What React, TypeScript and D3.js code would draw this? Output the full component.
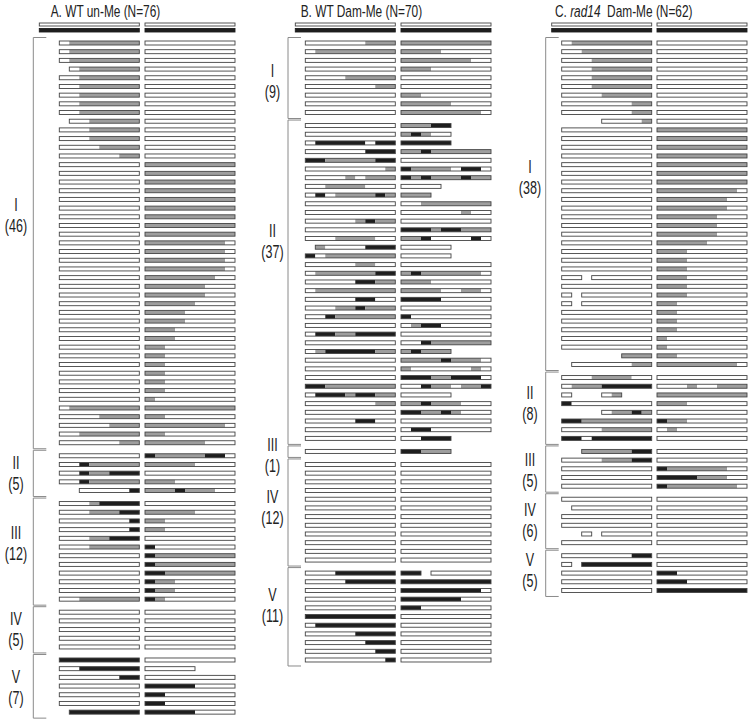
import React from "react";
import * as d3 from "d3";

// each row: "<left> <right>", one char per unit
// 0 = no read, 1 = unmethylated (white), 2 = grey, 3 = black
const aRows = [
  // I
  "12222222 111111111",
  "12222222 111111111",
  "12222222 111111111",
  "01222222 111111111",
  "11222222 111111111",
  "11222222 111111111",
  "11222222 111111111",
  "11222222 111111111",
  "11222222 111111111",
  "01122222 111111111",
  "11122222 111111111",
  "11122222 111111111",
  "11112222 111111111",
  "11111122 111111111",
  "11111111 222222222",
  "11111111 222222222",
  "11111111 222222222",
  "11111111 222222222",
  "11111111 222222222",
  "11111111 222222222",
  "11111111 222222222",
  "11111111 222222222",
  "11111111 222222222",
  "11111111 222222221",
  "11111111 222222221",
  "11111111 222222221",
  "11111111 222222221",
  "11111111 222222211",
  "11111111 222222111",
  "11111111 222222111",
  "11111111 222221111",
  "11111111 222211111",
  "11111111 222211111",
  "11111111 222111111",
  "11111111 222111111",
  "11111111 221111111",
  "11111111 221111111",
  "11111111 221111111",
  "11111111 221111111",
  "11111111 221111111",
  "11111111 221111111",
  "11111111 211111111",
  "12222222 222222222",
  "11112222 221111111",
  "11111222 222222221",
  "11222222 221111111",
  "11111122 222222111",
  // II
  "11111111 322222331",
  "11322222 222221111",
  "11322333 111111111",
  "11322222 222111111",
  "00111113 222322211",
  // III
  "11123333 111111111",
  "11122233 222221111",
  "11111113 221111111",
  "11111113 221111111",
  "11122333 111111111",
  "11122222 311111111",
  "11111111 322222222",
  "11111111 322222222",
  "11111111 332222222",
  "11111111 322111111",
  "11111111 322111111",
  "11222222 321111111",
  // IV
  "11111111 111111111",
  "11111111 111111111",
  "11111111 111111111",
  "11111111 111111111",
  "11111111 111111111",
  // V
  "33333333 111111111",
  "11333333 111110000",
  "11111133 111111111",
  "11111111 333331111",
  "11111111 331111111",
  "11111111 331111111",
  "03333333 333331111",
];
const aGroupSizes = [47, 5, 12, 5, 7];
const aGroupCounts = ["(46)", "(5)", "(12)", "(5)", "(7)"];

const bRows = [
  // I
  "111111222 222222222",
  "122222222 222211111",
  "111111111 222222211",
  "111111111 222111111",
  "111122222 111111111",
  "111111122 111111111",
  "111111111 221111111",
  "111111111 222221111",
  "111111111 222222221",
  // II
  "111111111 222330000",
  "111111111 232110000",
  "133333133 333330000",
  "111111333 223222222",
  "332222233 111111111",
  "111111112 322221331",
  "111121222 323222322",
  "112222111 111100000",
  "131222232 222000000",
  "111111111 112222222",
  "111111111 111111211",
  "111112322 111111111",
  "111111111 333233222",
  "111222211 223111131",
  "021111333 111110000",
  "312222222 111110000",
  "111112211 111111111",
  "122222233 232222221",
  "111113322 222111111",
  "122222222 222211221",
  "111113311 333311111",
  "111223222 111111111",
  "113222222 311111111",
  "111111111 123311111",
  "133223333 111111111",
  "111111111 113222222",
  "123333322 232220000",
  "111111111 222232221",
  "111111111 211111121",
  "111111111 333223331",
  "332222222 113221223",
  "133323322 111110000",
  "111111122 223222111",
  "111111111 332232111",
  "111113311 111111111",
  "111111111 133111111",
  "111111111 113330000",
  // III
  "111111111 332220000",
  // IV
  "111111111 111111111",
  "111111111 111111111",
  "111111111 111111111",
  "111111111 111111111",
  "111111111 111111111",
  "111111111 111111111",
  "111111111 111111111",
  "111111111 111111111",
  "111111111 111111111",
  "111111111 111111111",
  "111111111 111111111",
  "111111111 111111111",
  // V
  "111333333 330111111",
  "111133333 333333333",
  "111111111 333333331",
  "111111111 333333111",
  "111111111 331111111",
  "333333333 111111111",
  "133333333 111111111",
  "111113333 111111111",
  "111111333 111111111",
  "111111133 111111111",
  "111111113 111111111",
];
const bGroupSizes = [9, 37, 1, 12, 11];
const bGroupCounts = ["(9)", "(37)", "(1)", "(12)", "(11)"];

const cRows = [
  // I
  "122222222 111111111",
  "112222222 111111111",
  "111222222 111111111",
  "111222222 111111111",
  "111222222 111111111",
  "111222222 111111111",
  "111122222 111111111",
  "111111122 111111111",
  "111111122 111111111",
  "000011112 111111111",
  "111111111 222222222",
  "111111111 222222222",
  "111111111 222222222",
  "111111111 222222222",
  "111111111 222222222",
  "111111111 222222222",
  "111111111 222222222",
  "111111111 222222221",
  "111111111 222222211",
  "111111111 222222211",
  "111111111 222222111",
  "111111111 222222111",
  "111111111 222222111",
  "111111111 222221111",
  "111111111 222111111",
  "111111111 222111111",
  "111111111 222111111",
  "110111111 222111111",
  "111111111 222111111",
  "101111111 222111111",
  "101111111 221111111",
  "111111111 221111111",
  "111111111 221111111",
  "111111111 221111111",
  "111111111 211111111",
  "111111111 211111111",
  "000000222 221111111",
  "011111122 222222221",
  // II
  "111222211 111111111",
  "122233333 111211222",
  "100012000 222222222",
  "311111111 222111111",
  "000012232 111111111",
  "332222222 322111111",
  "111122222 121111111",
  "331333333 111111111",
  // III
  "002222233 111111111",
  "111122233 111111111",
  "111111111 322222211",
  "111111111 333322211",
  "111111111 322222221",
  // IV
  "111111111 111111111",
  "011111111 111111111",
  "111111111 111111111",
  "111111111 111111111",
  "001011111 111111111",
  "111111111 111111111",
  // V
  "111111133 111111111",
  "103333333 111111111",
  "111111111 331111111",
  "111111111 333111111",
  "111111111 333333333",
];
const cGroupSizes = [38, 8, 5, 6, 5];
const cGroupCounts = ["(38)", "(8)", "(5)", "(6)", "(5)"];

const groupNames = ["I", "II", "III", "IV", "V"];

// layout
const W = 750;
const H = 720;
const UNIT = 10;
const LEFT_UNITS = 10;
const RIGHT_UNITS = 9;
const ROW_TOP = 41;
const ROW_STEP = 8.69;
const BAR_H = 4;
const FONT = "'Liberation Sans', Arial, sans-serif";

const fills: Record<string, string> = { "1": "#ffffff", "2": "#9e9e9e", "3": "#1e1e1e" };
const outline = "#444";

const panels = [
  {
    key: "A", rows: aRows, sizes: aGroupSizes, counts: aGroupCounts,
    leftX: 39.3, rightX: 145, bracketX: 33.3, labelX: 16, titleX: 50.7,
    labelShift: [-28, -1, -9, -1, 0],
    title: [{ t: "A. WT un-Me (N=76)" }],
  },
  {
    key: "B", rows: bRows, sizes: bGroupSizes, counts: bGroupCounts,
    leftX: 295.3, rightX: 401, bracketX: 288, labelX: 272.5, titleX: 300.7,
    labelShift: [3, -42, 3, -6, -12],
    title: [{ t: "B. WT Dam-Me (N=70)" }],
  },
  {
    key: "C", rows: cRows, sizes: cGroupSizes, counts: cGroupCounts,
    leftX: 551.7, rightX: 657, bracketX: 545.7, labelX: 530, titleX: 555,
    labelShift: [-27, -6, 1, -2, -4],
    title: [{ t: "C. " }, { t: "rad14", i: true }, { t: "  Dam-Me (N=62)" }],
  },
];

// contiguous runs of identical codes
function runs(code: string) {
  const out: { s: number; e: number; v: string }[] = [];
  for (let i = 0; i < code.length; i++) {
    const last = out[out.length - 1];
    if (last && last.v === code[i]) last.e = i + 1;
    else out.push({ s: i, e: i + 1, v: code[i] });
  }
  return out;
}

// contiguous runs of present units (anything but 0)
function reads(code: string) {
  const out: { s: number; e: number }[] = [];
  for (let i = 0; i < code.length; i++) {
    if (code[i] === "0") continue;
    const last = out[out.length - 1];
    if (last && last.e === i) last.e = i + 1;
    else out.push({ s: i, e: i + 1 });
  }
  return out;
}

const yScale = d3.scaleLinear().domain([0, 1]).range([ROW_TOP, ROW_TOP + ROW_STEP]);

function Bar({ code, x, units, y }: { code: string; x: d3.ScaleLinear<number, number>; units: number; y: number }) {
  const off = units - code.length;
  return (
    <g>
      {runs(code).filter((r) => r.v !== "0").map((r, i) => (
        <rect key={"f" + i} x={x(r.s + off)} y={y} width={x(r.e) - x(r.s)} height={BAR_H} fill={fills[r.v]} />
      ))}
      {reads(code).map((r, i) => (
        <rect key={"o" + i} x={x(r.s + off)} y={y} width={x(r.e) - x(r.s)} height={BAR_H}
          fill="none" stroke={outline} strokeWidth={0.9} />
      ))}
    </g>
  );
}

function Panel({ p }: { p: (typeof panels)[number] }) {
  const xl = d3.scaleLinear().domain([0, LEFT_UNITS]).range([p.leftX, p.leftX + LEFT_UNITS * UNIT]);
  const xr = d3.scaleLinear().domain([0, RIGHT_UNITS]).range([p.rightX, p.rightX + RIGHT_UNITS * UNIT]);

  // slot of each row, half a row extra between groups
  const slots: number[] = [];
  const groups: { first: number; last: number }[] = [];
  let idx = 0;
  p.sizes.forEach((n, g) => {
    const first = idx + 0.5 * g;
    for (let k = 0; k < n; k++) slots.push(idx + k + 0.5 * g);
    idx += n;
    groups.push({ first, last: first + n - 1 });
  });

  return (
    <g>
      <g transform={`translate(${p.titleX},16.5) scale(0.72,1)`}>
        <text x={0} y={0} fontFamily={FONT} fontSize={16.5} fill="#222" style={{ whiteSpace: "pre" }}>
          {p.title.map((t, i) => (
            <tspan key={i} fontStyle={t.i ? "italic" : "normal"}>{t.t}</tspan>
          ))}
        </text>
      </g>

      {/* reference bars */}
      {[{ x: xl, n: LEFT_UNITS }, { x: xr, n: RIGHT_UNITS }].map((s, i) => (
        <g key={i}>
          <rect x={s.x(0)} y={23} width={s.x(s.n) - s.x(0)} height={3} fill="#fff" stroke={outline} strokeWidth={0.9} />
          <rect x={s.x(0)} y={28.5} width={s.x(s.n) - s.x(0)} height={3.5} fill="#1e1e1e" stroke="#1e1e1e" strokeWidth={0.9} />
        </g>
      ))}

      {p.rows.map((r, i) => {
        const [l, rt] = r.split(" ");
        const y = yScale(slots[i]);
        return (
          <g key={i}>
            <Bar code={l} x={xl} units={LEFT_UNITS} y={y} />
            <Bar code={rt} x={xr} units={RIGHT_UNITS} y={y} />
          </g>
        );
      })}

      {groups.map((g, i) => {
        const top = yScale(g.first) - 3.5;
        const bot = yScale(g.last) + 8;
        const mid = (yScale(g.first) + yScale(g.last)) / 2 + 2 + p.labelShift[i];
        return (
          <g key={i}>
            <path d={`M${p.bracketX + 13},${top}H${p.bracketX}V${bot}H${p.bracketX + 13}`}
              fill="none" stroke="#8a8a8a" strokeWidth={1} />
            {[{ t: groupNames[i], dy: -10.5 }, { t: p.counts[i], dy: 10.5 }].map((l, j) => (
              <g key={j} transform={`translate(${p.labelX},${mid + l.dy}) scale(0.66,1)`}>
                <text x={0} y={0} textAnchor="middle" dominantBaseline="central"
                  fontFamily={FONT} fontSize={19} fill="#222">{l.t}</text>
              </g>
            ))}
          </g>
        );
      })}
    </g>
  );
}

export default function App() {
  return (
    <svg width={W} height={H} viewBox={`0 0 ${W} ${H}`}
      style={{ position: "absolute", left: 0, top: 0, display: "block", background: "#fff" }}>
      {panels.map((p) => (
        <Panel key={p.key} p={p} />
      ))}
    </svg>
  );
}
